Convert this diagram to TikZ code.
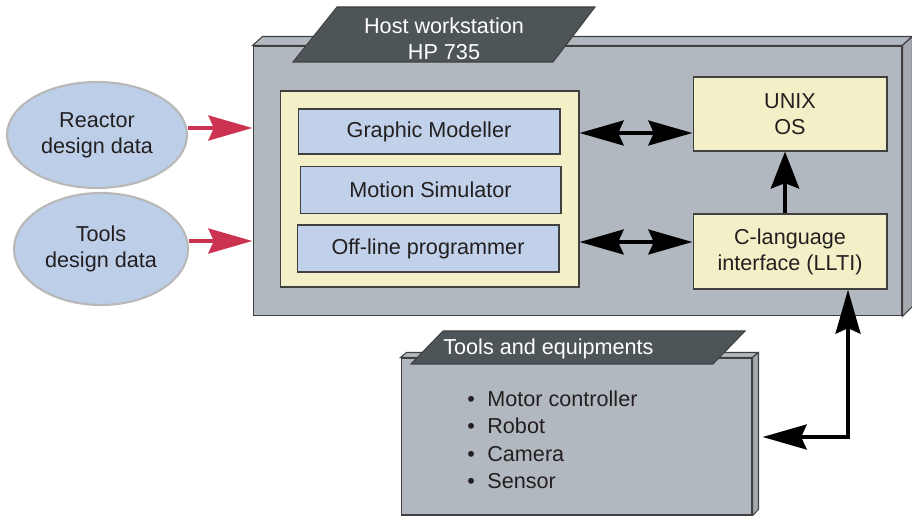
\documentclass[tikz,border=0pt]{standalone}
\usepackage{fontspec}
\setmainfont{Liberation Sans}
\usetikzlibrary{arrows.meta,shapes.geometric}

\definecolor{boxgray}{RGB}{178,184,191}
\definecolor{labeldark}{RGB}{77,85,88}
\definecolor{softyellow}{RGB}{243,240,200}
\definecolor{modblue}{RGB}{193,209,234}
\definecolor{datablue}{RGB}{189,207,232}
\definecolor{arrowred}{RGB}{204,51,80}
\definecolor{inkgray}{RGB}{35,31,32}

\tikzset{
  txt/.style={font=\fontsize{12.3}{14.8}\selectfont, text=inkgray, align=center},
  edge/.style={draw=black!75, line width=0.6pt},
  panel/.style={edge, fill=boxgray, inner sep=0pt},
  softbox/.style={edge, fill=softyellow, inner sep=0pt, txt},
  modbox/.style={edge, fill=modblue, inner sep=0pt, txt},
  databubble/.style={ellipse, draw=black!28, line width=1.2pt, fill=datablue, inner sep=0pt, txt},
  tag/.style={edge, fill=labeldark},
  flow/.style={line width=2.8pt, >={Stealth[length=25pt, width=14pt, inset=3pt]}},
  upflow/.style={line width=2.8pt, -{Stealth[length=21pt, width=16pt, inset=3pt]}},
  redflow/.style={flow, ->, arrowred}
}

\begin{document}
\begin{tikzpicture}[x=0.02cm, y=-0.02cm]
  \useasboundingbox (0,0) rectangle (912,516);

  % Host workstation
  \node[panel, minimum width=12.98cm, minimum height=5.4cm] (host) at (577.5,181) {};
  \filldraw[edge, fill=boxgray] (host.north west) -- ++(10,-9) -- ++(649,0) -- (host.north east) -- cycle;
  \filldraw[edge, fill=boxgray!92!black] (host.north east) -- ++(10,-9) -- ++(0,270) -- (host.south east) -- cycle;
  \filldraw[tag] (293,62) -- (337,7) -- (595,7) -- (553,62) -- cycle;
  \node[txt, text=white] (hostlbl) at (444,39) {Host workstation\\HP 735};

  % Software block
  \node[softbox, minimum width=5.98cm, minimum height=3.92cm] (soft) at (429.5,189) {};
  \node[modbox, minimum width=5.24cm, minimum height=0.9cm] (gm) at (429,131.5) {Graphic Modeller};
  \node[modbox, minimum width=5.22cm, minimum height=0.94cm] (ms) at (430.5,190) {Motion Simulator};
  \node[modbox, minimum width=5.24cm, minimum height=0.94cm] (olp) at (428,248.5) {Off-line programmer};

  \node[softbox, minimum width=3.88cm, minimum height=1.48cm] (unix) at (790,114) {UNIX\\OS};
  \node[softbox, minimum width=3.88cm, minimum height=1.5cm] (llti) at (790,251.5) {C-language\\interface (LLTI)};

  % Design data
  \node[databubble, minimum width=3.6cm, minimum height=2.12cm] (reactor) at (97,135) {Reactor\\design data};
  \node[databubble, minimum width=3.48cm, minimum height=2.24cm] (tooldata) at (101,249) {Tools\\design data};

  \draw[redflow] (reactor.east |- 0,128) -- (host.west |- 0,128);
  \draw[redflow] (tooldata.east |- 0,241) -- (host.west |- 0,241);

  % Tools and equipments
  \node[panel, minimum width=7.02cm, minimum height=3.14cm] (tools) at (576.5,436.5) {};
  \filldraw[edge, fill=boxgray] (tools.north west) -- ++(6,-5) -- ++(351,0) -- (tools.north east) -- cycle;
  \filldraw[edge, fill=boxgray!92!black] (tools.north east) -- ++(6,-5) -- ++(0,157) -- (tools.south east) -- cycle;
  \filldraw[tag] (411,364) -- (443,331) -- (745,331) -- (713,364) -- cycle;
  \node[txt, text=white, anchor=base west, inner sep=0pt] (toolslbl) at (443,355) {Tools and equipments};

  \foreach \thing [count=\i] in {Motor controller, Robot, Camera, Sensor}
    \node[txt, anchor=base west, inner sep=0pt] (kit\i) at (467,380+27*\i) {\makebox[11.4pt][l]{\textbullet}\thing};

  % Links
  \draw[flow, <->] (soft.east |- 0,133) -- (unix.west |- 0,133);
  \draw[flow, <->] (soft.east |- 0,242) -- (llti.west |- 0,242);
  \draw[upflow] (llti.north -| 785,0) -- (unix.south -| 785,0);
  \coordinate (elbow) at (848,437);
  \draw[flow, <->, shorten >=0.2cm] (llti.south -| elbow) -- (elbow) -- (tools.east |- elbow);
\end{tikzpicture}
\end{document}
